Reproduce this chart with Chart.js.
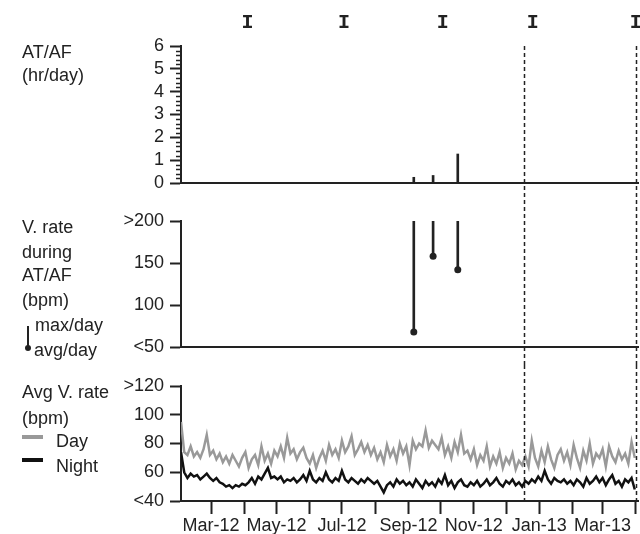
<!DOCTYPE html>
<html>
<head>
<meta charset="utf-8">
<script src="https://cdn.jsdelivr.net/npm/chart.js@4.4.1/dist/chart.umd.min.js"></script>
<style>
  body { margin: 0; background: #fff; }
  #wrap { position: relative; width: 640px; height: 534px; font-family: "Liberation Sans", Arial, sans-serif; font-size: 18px; color: #222; }
  .c { position: absolute; left: 0; width: 640px; }
  .lbl { position: absolute; left: 22px; line-height: 20px; white-space: nowrap; }
  .sw { position: absolute; }
</style>
</head>
<body>
<div id="wrap">
  <div class="c" style="top:0;height:200px"><canvas id="js--chart1"></canvas></div>
  <div class="c" style="top:200px;height:165px"><canvas id="js--chart2"></canvas></div>
  <div class="c" style="top:365px;height:169px"><canvas id="js--chart3"></canvas></div>

  <div class="lbl" style="top:42px">AT/AF</div>
  <div class="lbl" style="top:65px">(hr/day)</div>

  <div class="lbl" style="top:217px">V. rate</div>
  <div class="lbl" style="top:242px">during</div>
  <div class="lbl" style="top:265px">AT/AF</div>
  <div class="lbl" style="top:290px">(bpm)</div>
  <div class="lbl" style="top:315px;left:35px">max/day</div>
  <div class="lbl" style="top:340px;left:34px">avg/day</div>
  <div class="sw" style="left:27px;top:326px;width:2px;height:21px;background:#222"></div>
  <div class="sw" style="left:25px;top:345px;width:6px;height:6px;border-radius:3px;background:#222"></div>

  <div class="lbl" style="top:382px">Avg V. rate</div>
  <div class="lbl" style="top:408px">(bpm)</div>
  <div class="lbl" style="top:431px;left:56px">Day</div>
  <div class="lbl" style="top:456px;left:56px">Night</div>
  <div class="sw" style="left:22px;top:435px;width:21px;height:4px;background:#999"></div>
  <div class="sw" style="left:22px;top:458px;width:21px;height:4px;background:#111"></div>
</div>
<script>
// x values are days counted from 1 Jan 2012 (= 0)
const xMin = 32, xMax = 458;

const monthTicks = [60, 91, 121, 152, 182, 213, 244, 274, 305, 335, 366, 397, 425, 456];
const monthLabels = ['Mar-12', '', 'May-12', '', 'Jul-12', '', 'Sep-12', '', 'Nov-12', '', 'Jan-13', '', 'Mar-13', ''];

const followUpDays = [94, 184, 276, 360, 456];
const dashDays = [352, 456];

// AT/AF episodes
const atafDays = [249, 267, 290];
const atafHours = [0.25, 0.33, 1.27];
const vRateMax = [200, 200, 200];
const vRateAvg = [68, 158, 142];

// daily average V. rate, one value every 3 days starting at day 32
const rateStart = 32;
const rateStep = 3;
const dayRate = [
  95, 74, 72, 78, 71, 74, 70, 76, 86, 72,
  75, 69, 73, 67, 71, 66, 72, 68, 64, 70,
  74, 63, 69, 72, 65, 78, 68, 73, 66, 75,
  71, 78, 70, 84, 73, 76, 69, 74, 77, 70,
  66, 72, 63, 70, 75, 68, 79, 72, 76, 70,
  82, 74, 78, 85, 72, 76, 81, 74, 79, 72,
  77, 69, 74, 67, 79, 71, 76, 68, 80, 73,
  78, 65, 82, 76, 80, 78, 89, 77, 82, 79,
  76, 84, 72, 78, 70, 81, 74, 86, 73, 75,
  69, 76, 65, 72, 68, 78, 64, 71, 66, 74,
  63, 70, 66, 73, 62, 68, 65, 71, 64, 82,
  70, 64, 75, 67, 78, 69, 63, 72, 76, 68,
  74, 65, 79, 70, 63, 75, 68, 80, 66, 73,
  70, 76, 64, 78, 71, 67, 75, 69, 73, 66,
  81, 70
];
const nightRate = [
  74, 60, 56, 59, 57, 58, 55, 57, 59, 56,
  54, 56, 53, 52, 50, 51, 49, 51, 50, 52,
  51, 53, 56, 52, 57, 55, 59, 63, 56, 57,
  55, 57, 53, 55, 54, 56, 53, 55, 58, 54,
  61, 55, 53, 56, 54, 60, 55, 53, 56, 54,
  61, 55, 53, 56, 54, 52, 55, 53, 56, 54,
  52, 54, 50, 46, 51, 53, 50, 55, 52, 54,
  51, 53, 50, 55, 52, 49, 54, 51, 53, 50,
  55, 52, 58, 51, 54, 49, 53, 55, 51, 50,
  53, 51, 54, 50, 52, 55, 51, 53, 56, 52,
  50, 54, 52, 55, 51, 53, 50, 54, 52, 55,
  53, 57, 54, 61, 55, 52, 56, 54, 53, 55,
  52, 54, 51, 55, 53, 50, 56, 52, 54, 57,
  53, 56, 51, 55, 58, 52, 54, 50, 55, 53,
  56, 48
];

const ink = '#222';
const tickFont = { family: '"Liberation Sans", Arial, sans-serif', size: 18 };

// dashed vertical markers, drawn through each panel so they join up
const dashPlugin = {
  id: 'dashLines',
  afterDatasetsDraw(chart, args, opts) {
    const ctx = chart.ctx;
    const x = chart.scales.x;
    const top = opts.fromArea ? chart.chartArea.top : 0;
    const bottom = opts.toArea ? chart.chartArea.bottom : chart.height;
    ctx.save();
    ctx.setLineDash([4, 3]);
    ctx.lineWidth = 1.5;
    ctx.strokeStyle = ink;
    dashDays.forEach(function(d){
      const px = Math.round(x.getPixelForValue(d)) + 0.5;
      ctx.beginPath();
      ctx.moveTo(px, top);
      ctx.lineTo(px, bottom);
      ctx.stroke();
    });
    ctx.restore();
  }
};

// follow-up "I" markers and minor ticks of the top panel
const topPlugin = {
  id: 'topExtras',
  afterDraw(chart) {
    const ctx = chart.ctx;
    const x = chart.scales.x;
    const y = chart.scales.y;
    ctx.save();
    ctx.fillStyle = ink;
    ctx.font = 'bold 20px "Liberation Mono", "Courier New", monospace';
    ctx.textAlign = 'center';
    ctx.textBaseline = 'middle';
    followUpDays.forEach(function(d){
      ctx.fillText('I', x.getPixelForValue(d), 23);
    });
    ctx.strokeStyle = ink;
    ctx.lineWidth = 1.5;
    const left = chart.chartArea.left;
    for (let i = 1; i < 30; i++) {
      if (i % 5 === 0) continue;
      const py = Math.round(y.getPixelForValue(i / 5)) + 0.5;
      ctx.beginPath();
      ctx.moveTo(left - 5, py);
      ctx.lineTo(left, py);
      ctx.stroke();
    }
    ctx.restore();
  }
};

function xAxis(height, withTicks) {
  return {
    type: 'linear',
    min: xMin,
    max: xMax,
    offset: false,
    afterBuildTicks: function(s){ s.ticks = monthTicks.map(function(v){ return { value: v }; }); },
    ticks: {
      display: withTicks,
      autoSkip: false,
      maxRotation: 0,
      padding: 1,
      color: ink,
      font: tickFont,
      callback: function(v, i){ return monthLabels[i]; }
    },
    grid: { offset: false, drawOnChartArea: false, drawTicks: withTicks, tickLength: 13, tickWidth: 2, tickColor: ink },
    border: { color: ink, width: 2 },
    afterFit: function(s){ s.height = height; s.paddingLeft = 0; s.paddingRight = 0; }
  };
}

function yAxis(min, max, step, labels) {
  return {
    min: min,
    max: max,
    ticks: {
      stepSize: step,
      autoSkip: false,
      padding: 6,
      color: ink,
      font: tickFont,
      callback: function(v){ return labels[v] !== undefined ? labels[v] : v; }
    },
    grid: { drawOnChartArea: false, tickLength: 11, tickWidth: 2, tickColor: ink },
    border: { color: ink, width: 2 },
    afterFit: function(s){ s.width = 60; s.paddingTop = 0; s.paddingBottom = 0; }
  };
}

const baseOptions = function(padTop, dashOpts, xa, ya) {
  return {
    responsive: true,
    maintainAspectRatio: false,
    animation: false,
    layout: { autoPadding: false, padding: { left: 121, right: 2, top: padTop, bottom: 0 } },
    plugins: { legend: { display: false }, tooltip: { enabled: false }, dashLines: dashOpts },
    scales: { x: xa, y: ya }
  };
};

// panel 1: AT/AF hours per day
const chart1 = new Chart(document.getElementById('js--chart1'), {
  type: 'bar',
  data: {
    datasets: [{
      data: atafDays.map(function(d, i){ return { x: d, y: atafHours[i] }; }),
      backgroundColor: ink,
      barThickness: 2
    }]
  },
  options: baseOptions(46, { fromArea: true }, xAxis(17, false), yAxis(0, 6, 1, {})),
  plugins: [dashPlugin, topPlugin]
});

// panel 2: V. rate during AT/AF
const chart2 = new Chart(document.getElementById('js--chart2'), {
  type: 'bar',
  data: {
    datasets: [
      {
        data: atafDays.map(function(d, i){ return { x: d, y: [vRateAvg[i], vRateMax[i]] }; }),
        backgroundColor: ink,
        barThickness: 2
      },
      {
        type: 'scatter',
        data: atafDays.map(function(d, i){ return { x: d, y: vRateAvg[i] }; }),
        pointRadius: 3.5,
        pointBackgroundColor: ink,
        pointBorderWidth: 0
      }
    ]
  },
  options: baseOptions(21, {}, xAxis(18, false), yAxis(50, 200, 50, { 200: '>200', 50: '<50' })),
  plugins: [dashPlugin]
});

// panel 3: average V. rate, day and night
const chart3 = new Chart(document.getElementById('js--chart3'), {
  type: 'line',
  data: {
    datasets: [
      {
        label: 'Day',
        data: dayRate.map(function(v, i){ return { x: rateStart + i * rateStep, y: v }; }),
        borderColor: '#999',
        borderWidth: 2.5,
        pointRadius: 0,
        tension: 0
      },
      {
        label: 'Night',
        data: nightRate.map(function(v, i){ return { x: rateStart + i * rateStep, y: v }; }),
        borderColor: '#111',
        borderWidth: 2.5,
        pointRadius: 0,
        tension: 0
      }
    ]
  },
  options: baseOptions(21, { toArea: true }, xAxis(33, true), yAxis(40, 120, 20, { 120: '>120', 40: '<40' })),
  plugins: [dashPlugin]
});
</script>
</body>
</html>
